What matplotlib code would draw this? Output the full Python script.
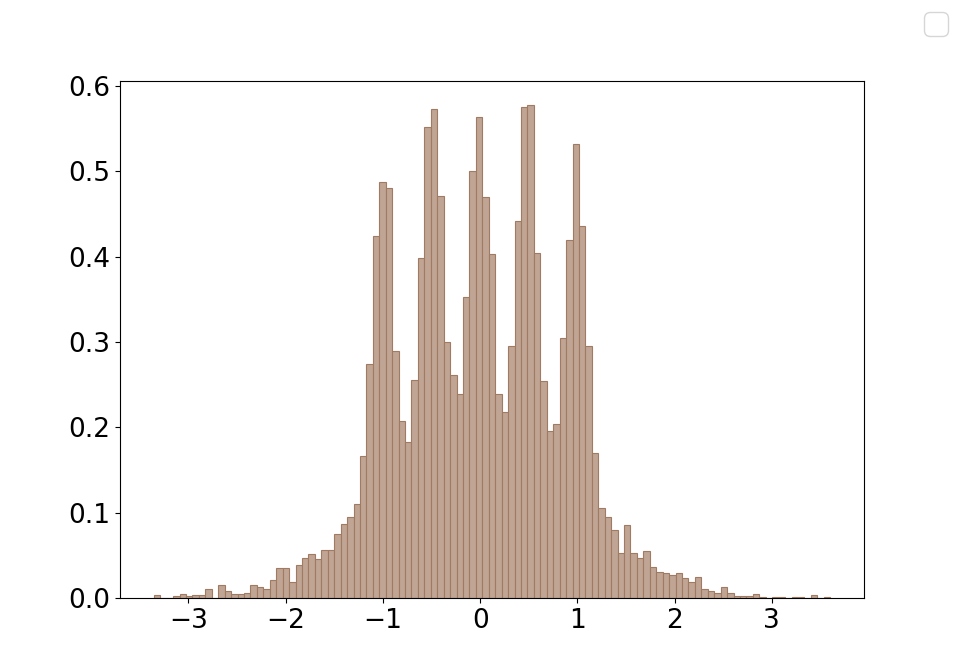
import numpy as np
import matplotlib
matplotlib.use("Agg")
import matplotlib.pyplot as plt

# histogram range (data min / max) and per-bin density values
hist_min = -3.356
hist_max = 3.600
densities = [
    0.0035, 0.0, 0.0, 0.003, 0.0045, 0.0023, 0.0035, 0.0035, 0.0102, 0.0,
    0.0156, 0.0086, 0.005, 0.005, 0.006, 0.0156, 0.013, 0.011, 0.021, 0.0355,
    0.0355, 0.019, 0.039, 0.047, 0.052, 0.046, 0.0566, 0.0566, 0.0754, 0.087,
    0.095, 0.110, 0.167, 0.274, 0.424, 0.488, 0.481, 0.290, 0.207, 0.1825,
    0.256, 0.399, 0.5526, 0.573, 0.471, 0.3005, 0.261, 0.2388, 0.353, 0.501,
    0.5635, 0.4697, 0.403, 0.2388, 0.2177, 0.2958, 0.4416, 0.575, 0.5776, 0.404,
    0.2548, 0.1954, 0.2036, 0.305, 0.4193, 0.5326, 0.436, 0.2958, 0.170, 0.105,
    0.0955, 0.080, 0.0524, 0.0852, 0.0524, 0.0465, 0.0555, 0.0367, 0.031, 0.0297,
    0.0273, 0.0297, 0.0238, 0.019, 0.025, 0.011, 0.0086, 0.006, 0.0133, 0.006,
    0.0027, 0.0027, 0.0027, 0.005, 0.001, 0.0, 0.001, 0.001, 0.0, 0.001,
    0.001, 0.0, 0.004, 0.0, 0.001,
]

plt.rcParams["font.size"] = 18

edges = np.linspace(hist_min, hist_max, len(densities) + 1)
centers = 0.5 * (edges[:-1] + edges[1:])

fig, ax = plt.subplots(figsize=(9.6, 6.72), dpi=100)
ax.hist(centers, bins=edges, weights=densities,
        facecolor="#c0a594", edgecolor="#a07b62", linewidth=0.8)
ax.tick_params(labelsize=19)

fig.legend(handles=[], labels=[], fontsize=21.5, borderaxespad=0.4)

fig.savefig("out.png", dpi=100)
